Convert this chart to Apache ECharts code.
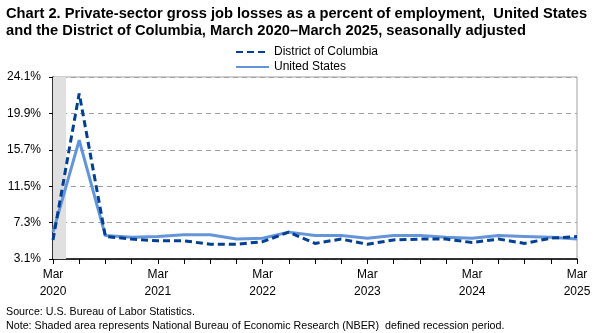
<!DOCTYPE html>
<html>
<head>
<meta charset="utf-8">
<script src="https://cdn.jsdelivr.net/npm/echarts@6/dist/echarts.min.js"></script>
<style>
  html, body { margin: 0; padding: 0; background: #fff; }
  #main { width: 603px; height: 333px; }
</style>
</head>
<body>
<div id="main"></div>
<script>
// quarterly, Mar 2020 - Mar 2025
var categories = [
  'Mar\n2020', 'Jun\n2020', 'Sep\n2020', 'Dec\n2020',
  'Mar\n2021', 'Jun\n2021', 'Sep\n2021', 'Dec\n2021',
  'Mar\n2022', 'Jun\n2022', 'Sep\n2022', 'Dec\n2022',
  'Mar\n2023', 'Jun\n2023', 'Sep\n2023', 'Dec\n2023',
  'Mar\n2024', 'Jun\n2024', 'Sep\n2024', 'Dec\n2024',
  'Mar\n2025'
];
var dcValues = [5.3, 22.2, 5.7, 5.4, 5.2, 5.2, 4.8, 4.8, 5.1, 6.2, 4.9, 5.4, 4.8, 5.3, 5.4, 5.4, 5.0, 5.4, 4.9, 5.5, 5.7];
var usValues = [6.2, 16.8, 5.8, 5.6, 5.7, 5.9, 5.9, 5.4, 5.5, 6.2, 5.8, 5.8, 5.5, 5.8, 5.8, 5.6, 5.5, 5.8, 5.7, 5.6, 5.4];
var yTicks = [3.1, 7.3, 11.5, 15.7, 19.9, 24.1];
// recession shading (NBER), in quarter index units
var recession = [0, 0.5];

var font = 'Arial, "Liberation Sans", sans-serif';

function pairs(vals) {
  return vals.map(function (v, i) { return [i, v]; });
}

var myChart = echarts.init(document.getElementById('main'), null, {renderer: 'canvas'});
myChart.setOption({
  animation: false,
  textStyle: {fontFamily: font},
  title: [{
    text: 'Chart 2. Private-sector gross job losses as a percent of employment,  United States\nand the District of Columbia, March 2020\u2013March 2025, seasonally adjusted',
    left: 6,
    top: 5,
    padding: 0,
    textStyle: {fontSize: 14.7, fontWeight: 'bold', color: '#000', lineHeight: 17, fontFamily: font}
  }, {
    text: 'Source: U.S. Bureau of Labor Statistics.\nNote: Shaded area represents National Bureau of Economic Research (NBER)  defined recession period.',
    left: 6,
    top: 305,
    padding: 0,
    textStyle: {fontSize: 10.7, fontWeight: 'normal', color: '#000', lineHeight: 14, fontFamily: font}
  }],
  legend: {
    orient: 'vertical',
    left: 235,
    top: 46,
    padding: 0,
    itemWidth: 33,
    itemHeight: 10,
    itemGap: 3,
    itemStyle: {opacity: 0},
    textStyle: {fontSize: 12, color: '#000', fontFamily: font},
    data: ['District of Columbia', 'United States']
  },
  grid: {
    left: 53,
    right: 26,
    top: 77,
    bottom: 74,
    show: true,
    borderColor: '#a0a0a0',
    borderWidth: 1
  },
  xAxis: {
    type: 'value',
    min: 0,
    max: categories.length - 1,
    interval: 1,
    axisLine: {lineStyle: {color: '#000', width: 1.5}},
    axisTick: {show: true, length: 5, lineStyle: {color: '#000'}},
    splitLine: {show: false},
    axisLabel: {
      color: '#000',
      fontSize: 12,
      lineHeight: 17,
      margin: 7,
      formatter: function (v) {
        var c = categories[v];
        return c && c.indexOf('Mar') === 0 ? c : '';
      }
    }
  },
  yAxis: {
    type: 'value',
    min: yTicks[0],
    max: yTicks[yTicks.length - 1],
    axisLine: {show: true, lineStyle: {color: '#000', width: 1.5}},
    axisTick: {show: true, length: 4, lineStyle: {color: '#000'}, customValues: yTicks},
    splitLine: {show: true, lineStyle: {color: '#a0a0a0', type: [5, 4]}},
    axisLabel: {
      color: '#000',
      fontSize: 12,
      margin: 12,
      customValues: yTicks,
      formatter: function (v) { return v.toFixed(1) + '%'; }
    }
  },
  series: [
    {
      name: 'District of Columbia',
      type: 'line',
      symbol: 'none',
      data: pairs(dcValues),
      lineStyle: {color: '#003f91', width: 3, type: [7, 4]},
      itemStyle: {color: '#003f91'},
      z: 3,
      markArea: {
        silent: true,
        itemStyle: {color: '#e0e0e0'},
        data: [[{xAxis: recession[0]}, {xAxis: recession[1]}]]
      }
    },
    {
      name: 'United States',
      type: 'line',
      symbol: 'none',
      data: pairs(usValues),
      lineStyle: {color: '#6595d9', width: 3},
      itemStyle: {color: '#6595d9'},
      z: 2
    }
  ]
});
</script>
</body>
</html>
